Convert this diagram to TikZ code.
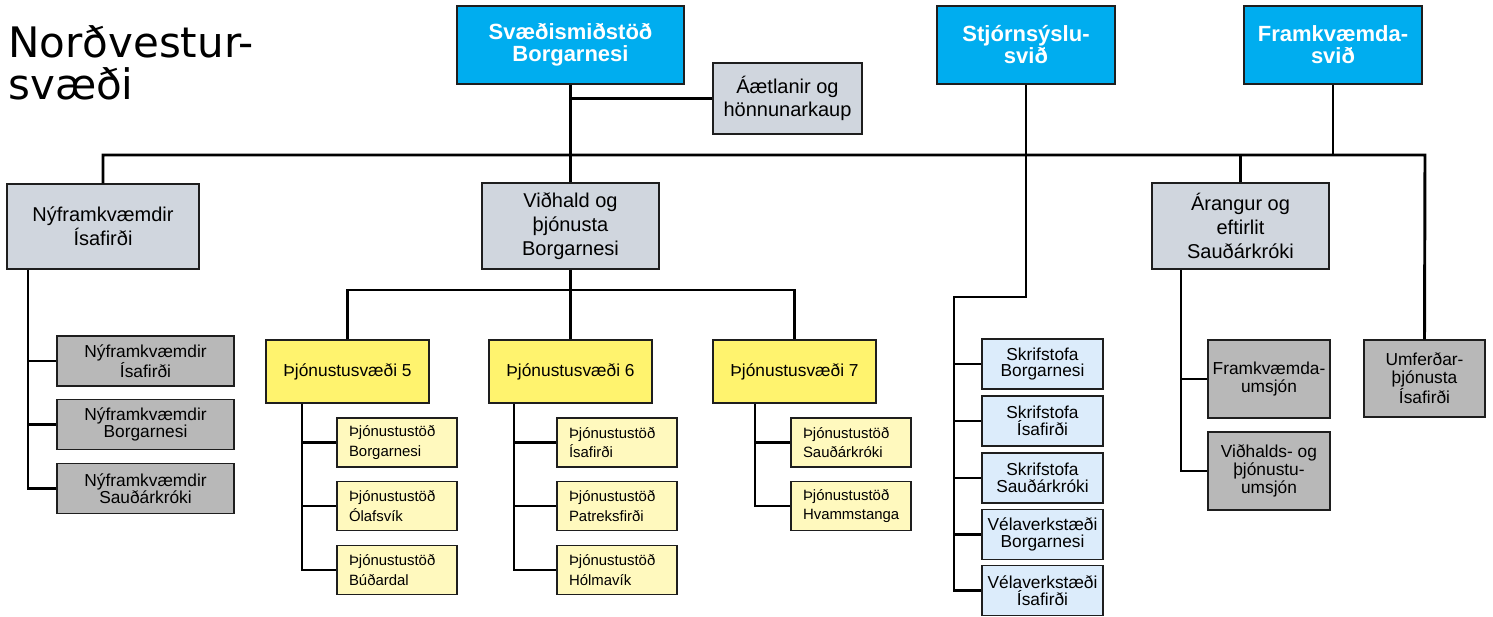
\documentclass[tikz,border=0pt]{standalone}
\usepackage{fontspec}
\setmainfont{Liberation Sans}
\newfontfamily\titlefont{DejaVu Sans}
\definecolor{cyanT}{RGB}{0,173,239}
\definecolor{lvlTwo}{RGB}{208,214,222}
\definecolor{grayB}{RGB}{184,184,184}
\definecolor{yelP}{RGB}{255,243,110}
\definecolor{yelS}{RGB}{255,249,190}
\definecolor{bluS}{RGB}{220,236,251}
\definecolor{edge}{RGB}{30,30,30}
\tikzset{
  wh/.style 2 args={minimum width=#1*0.75pt, minimum height=#2*0.75pt},
  box/.style={draw=edge, line width=1pt, rectangle, inner sep=0pt, align=center},
  topbox/.style={box, fill=cyanT, text=white, font=\fontsize{16.5}{16.5}\selectfont\bfseries},
  lvtwo/.style={box, fill=lvlTwo, font=\fontsize{15}{18}\selectfont},
  aetbox/.style={box, fill=lvlTwo, font=\fontsize{15}{17.3}\selectfont},
  grayl/.style={box, fill=grayB, font=\fontsize{13}{12.8}\selectfont},
  grayr/.style={box, fill=grayB, font=\fontsize{13}{13.5}\selectfont},
  yelbig/.style={box, fill=yelP, font=\fontsize{13}{15}\selectfont},
  yelsmall/.style={box, fill=yelS, align=left, text width=72pt, inner xsep=9pt, font=\fontsize{11.2}{14.5}\selectfont},
  blubox/.style={box, fill=bluS, font=\fontsize{13}{12.5}\selectfont},
  conn/.style={draw=black, line width=2.2pt, line join=miter}
}
\begin{document}
\begin{tikzpicture}[x=0.75pt, y=-0.75pt]
\useasboundingbox (0,0) rectangle (1493,617);
% title
\node[anchor=base west, inner sep=0pt, font=\titlefont\fontsize{31.5}{31.5}\selectfont] (t1) at (8,58) {Norðvestur-};
\node[anchor=base west, inner sep=0pt, font=\titlefont\fontsize{31.5}{31.5}\selectfont] (t2) at (8,99) {svæði};
% top boxes
\node[topbox, wh={227}{78}] (top1) at (570.5,45) {Svæðismiðstöð\\Borgarnesi};
\node[topbox, wh={178}{78}] (top2) at (1026,45) {Stjórnsýslu-\\svið};
\node[topbox, wh={178}{78}] (top3) at (1333,45) {Framkvæmda-\\svið};
\node[aetbox, wh={149}{71}] (aaet) at (787.5,98.5) {Áætlanir og\\hönnunarkaup};
% level 2
\node[lvtwo, wh={192}{85}] (nyf) at (103,226.5) {Nýframkvæmdir\\Ísafirði};
\node[lvtwo, wh={177}{86}] (vid) at (570.5,226) {Viðhald og\\þjónusta\\Borgarnesi};
\node[lvtwo, wh={177}{86}] (ara) at (1240.5,226) {Árangur og\\eftirlit\\Sauðárkróki};
% left gray
\node[grayl, wh={177}{50}] (ny1) at (145.5,361) {Nýframkvæmdir\\Ísafirði};
\node[grayl, wh={177}{50}] (ny2) at (145.5,424.5) {Nýframkvæmdir\\Borgarnesi};
\node[grayl, wh={177}{50}] (ny3) at (145.5,488.5) {Nýframkvæmdir\\Sauðárkróki};
% yellow
\node[yelbig, wh={163}{63}] (p5) at (347.5,371.5) {Þjónustusvæði 5};
\node[yelbig, wh={163}{63}] (p6) at (570.5,371.5) {Þjónustusvæði 6};
\node[yelbig, wh={163}{63}] (p7) at (794.5,371.5) {Þjónustusvæði 7};
\node[yelsmall, wh={120}{49}] (s51) at (397,442.5) {Þjónustustöð\\Borgarnesi};
\node[yelsmall, wh={120}{49}] (s52) at (397,506) {Þjónustustöð\\Ólafsvík};
\node[yelsmall, wh={120}{49}] (s53) at (397,570) {Þjónustustöð\\Búðardal};
\node[yelsmall, wh={120}{49}] (s61) at (617,442.5) {Þjónustustöð\\Ísafirði};
\node[yelsmall, wh={120}{49}] (s62) at (617,506) {Þjónustustöð\\Patreksfirði};
\node[yelsmall, wh={120}{49}] (s63) at (617,570) {Þjónustustöð\\Hólmavík};
\node[yelsmall, wh={120}{49}] (s71) at (851,442.5) {Þjónustustöð\\Sauðárkróki};
\node[yelsmall, wh={120}{49}] (s72) at (851,506) {Þjónustustöð\\Hvammstanga};
% blue
\node[blubox, wh={121}{50}] (sk1) at (1042.5,364) {Skrifstofa\\Borgarnesi};
\node[blubox, wh={121}{50}] (sk2) at (1042.5,421) {Skrifstofa\\Ísafirði};
\node[blubox, wh={121}{50}] (sk3) at (1042.5,478) {Skrifstofa\\Sauðárkróki};
\node[blubox, wh={121}{50}] (sk4) at (1042.5,534.5) {Vélaverkstæði\\Borgarnesi};
\node[blubox, wh={121}{50}] (sk5) at (1042.5,590.5) {Vélaverkstæði\\Ísafirði};
% right gray
\node[grayr, wh={122}{78}] (fu) at (1269,379) {Framkvæmda-\\umsjón};
\node[grayr, wh={122}{78}] (vu) at (1269,471) {Viðhalds- og\\þjónustu-\\umsjón};
\node[grayr, wh={121}{77}] (umf) at (1424.5,378.5) {Umferðar-\\þjónusta\\Ísafirði};
% helper coordinates
\coordinate (hR) at (1425,155);
\coordinate (vbar) at (570.5,290);
\coordinate (sbend) at (954,297);
\coordinate (nv) at (28,0);
\coordinate (v5) at (302,0);
\coordinate (v6) at (514,0);
\coordinate (v7) at (755,0);
\coordinate (va) at (1181,0);
% connectors
\draw[conn] (top1.south) -- (vid.north);
\draw[conn] (top1.south |- aaet.west) -- (aaet.west);
\draw[conn] (nyf.north) -- (nyf.north |- hR) -- (hR) -- (umf.north);
\draw[conn] (ara.north) -- (ara.north |- hR);
\draw[conn] (top3.south) -- (top3.south |- hR);
\draw[conn] (top2.south) -- (top2.south |- sbend) -- (sbend) -- (sbend |- sk5.west) -- (sk5.west);
\foreach \n in {sk1,sk2,sk3,sk4}{\draw[conn] (sbend |- \n.west) -- (\n.west);}
\draw[conn] (vid.south) -- (p6.north);
\draw[conn] (p5.north) -- (p5.north |- vbar) -- (p7.north |- vbar) -- (p7.north);
\draw[conn] (nv |- nyf.south) -- (nv |- ny3.west) -- (ny3.west);
\foreach \n in {ny1,ny2}{\draw[conn] (nv |- \n.west) -- (\n.west);}
\draw[conn] (v5 |- p5.south) -- (v5 |- s53.west) -- (s53.west);
\foreach \n in {s51,s52}{\draw[conn] (v5 |- \n.west) -- (\n.west);}
\draw[conn] (v6 |- p6.south) -- (v6 |- s63.west) -- (s63.west);
\foreach \n in {s61,s62}{\draw[conn] (v6 |- \n.west) -- (\n.west);}
\draw[conn] (v7 |- p7.south) -- (v7 |- s72.west) -- (s72.west);
\draw[conn] (v7 |- s71.west) -- (s71.west);
\draw[conn] (va |- ara.south) -- (va |- vu.west) -- (vu.west);
\draw[conn] (va |- fu.west) -- (fu.west);
\end{tikzpicture}
\end{document}
